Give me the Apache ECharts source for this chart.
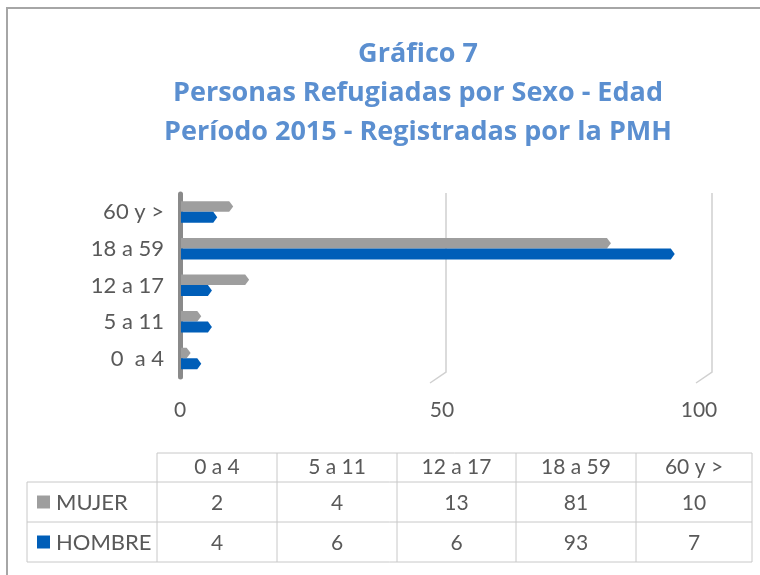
<!DOCTYPE html>
<html>
<head>
<meta charset="utf-8">
<script src="https://cdn.jsdelivr.net/npm/echarts@6/dist/echarts.min.js"></script>
<style>
  html, body { margin: 0; padding: 0; background: #fff; }
  #chart { width: 760px; height: 575px; }
</style>
</head>
<body>
<div id="chart"></div>
<script>
// datos
var categories = ['0  a 4', '5 a 11', '12 a 17', '18 a 59', '60 y >'];
var tableHeaders = ['0 a 4', '5 a 11', '12 a 17', '18 a 59', '60 y >'];
var seriesNames = ['MUJER', 'HOMBRE'];
var mujer = [2, 4, 13, 81, 10];
var hombre = [4, 6, 6, 93, 7];
var xTicks = [0, 50, 100];

var colors = ['#9e9e9e', '#005eb8'];
var textColor = '#595959';
var fontFam = 'Lato, "Open Sans", sans-serif';

// barra con punta (imitando el 3D de Excel)
function pointedBar(side, color) {
  return function (params, api) {
    var idx = api.value(1);
    var base = api.coord([0, idx]);
    var tip = api.coord([api.value(0), idx]);
    var h = side < 0 ? 10.5 : 11, t = 4;
    var y0 = side < 0 ? base[1] - 11 : base[1] - 0.5;
    var x0 = base[0] + 1, x1 = tip[0];
    return {
      type: 'polygon',
      shape: { points: [[x0, y0], [x1 - t, y0], [x1, y0 + h / 2], [x1 - t, y0 + h], [x0, y0 + h]] },
      style: { fill: color }
    };
  };
}

// lineas de division con pie inclinado
function gridLine(params, api) {
  var cs = params.coordSys;
  var x = api.coord([api.value(0), 0])[0];
  var bottom = cs.y + cs.height;
  return {
    type: 'polyline',
    shape: { points: [[x, cs.y - 1], [x, bottom - 5], [x - 16, bottom + 6]] },
    style: { stroke: '#d0d0d0', lineWidth: 1.5, fill: null },
    silent: true
  };
}

// tabla de datos
var colX = [157, 277, 397, 516, 636, 752];
var rowY = [453, 482, 522, 562];
var legendLeft = 27;
var lineColor = '#c8c8c8';
var graphics = [];

// marco
graphics.push({ type: 'polyline', shape: { points: [[7, 575], [7, 8], [760, 8]] },
  style: { stroke: '#a6a6a6', lineWidth: 2, fill: null } });

graphics.push({ type: 'line', shape: { x1: colX[0], y1: rowY[0], x2: colX[5], y2: rowY[0] }, style: { stroke: lineColor } });
for (var r = 1; r < rowY.length; r++) {
  graphics.push({ type: 'line', shape: { x1: legendLeft, y1: rowY[r], x2: colX[5], y2: rowY[r] }, style: { stroke: lineColor } });
}
graphics.push({ type: 'line', shape: { x1: legendLeft, y1: rowY[1], x2: legendLeft, y2: rowY[3] }, style: { stroke: lineColor } });
colX.forEach(function (x) {
  graphics.push({ type: 'line', shape: { x1: x, y1: rowY[0], x2: x, y2: rowY[3] }, style: { stroke: lineColor } });
});

var cellFont = { fontSize: 21, fontFamily: fontFam, fill: textColor, align: 'center', verticalAlign: 'middle' };
tableHeaders.forEach(function (h, i) {
  graphics.push({ type: 'text', x: (colX[i] + colX[i + 1]) / 2, y: (rowY[0] + rowY[1]) / 2,
    style: Object.assign({ text: h }, cellFont) });
});
[mujer, hombre].forEach(function (vals, r) {
  var cy = (rowY[r + 1] + rowY[r + 2]) / 2;
  graphics.push({ type: 'rect', shape: { x: 37, y: cy - 6.5, width: 13, height: 13 }, style: { fill: colors[r] } });
  graphics.push({ type: 'text', x: 56, y: cy + 1,
    style: { text: seriesNames[r], fontSize: 22, fontFamily: fontFam, fill: textColor, align: 'left', verticalAlign: 'middle' } });
  vals.forEach(function (v, i) {
    graphics.push({ type: 'text', x: (colX[i] + colX[i + 1]) / 2, y: cy + 1,
      style: Object.assign({ text: String(v) }, cellFont) });
  });
});

var chart = echarts.init(document.getElementById('chart'));
chart.setOption({
  animation: false,
  backgroundColor: '#fff',
  title: {
    text: 'Gráfico 7\nPersonas Refugiadas por Sexo - Edad\nPeríodo 2015 - Registradas por la PMH',
    left: 413,
    top: 30,
    textAlign: 'center',
    textStyle: { color: '#5b8fd0', fontSize: 27, fontWeight: 'bold', lineHeight: 39, fontFamily: '"Open Sans", Lato, sans-serif' }
  },
  grid: { left: 180, right: 48, top: 194, bottom: 198 },
  xAxis: {
    type: 'value',
    min: xTicks[0],
    max: xTicks[xTicks.length - 1],
    interval: 50,
    axisLine: { show: false },
    axisTick: { show: false },
    splitLine: { show: false },
    axisLabel: {
      color: textColor, fontSize: 21, fontFamily: fontFam, margin: 23,
      formatter: function (v) { return '{t' + v + '|' + v + '}'; },
      rich: {
        t0: {},
        t50: { padding: [0, 8, 0, 0] },
        t100: { padding: [0, 26, 0, 0] }
      }
    }
  },
  yAxis: {
    type: 'category',
    data: categories,
    axisLine: { show: true, lineStyle: { color: '#8a8a8a', width: 5 } },
    axisTick: { show: false },
    axisLabel: { color: textColor, fontSize: 22, fontFamily: fontFam, margin: 16 }
  },
  series: [
    {
      type: 'custom',
      renderItem: gridLine,
      encode: { x: 0 },
      data: xTicks.slice(1).map(function (v) { return [v]; }),
      z: 1
    },
    {
      name: seriesNames[0],
      type: 'custom',
      renderItem: pointedBar(-1, colors[0]),
      encode: { x: 0, y: 1 },
      data: mujer.map(function (v, i) { return [v, i]; }),
      z: 3
    },
    {
      name: seriesNames[1],
      type: 'custom',
      renderItem: pointedBar(1, colors[1]),
      encode: { x: 0, y: 1 },
      data: hombre.map(function (v, i) { return [v, i]; }),
      z: 3
    }
  ],
  graphic: graphics
});
</script>
</body>
</html>
